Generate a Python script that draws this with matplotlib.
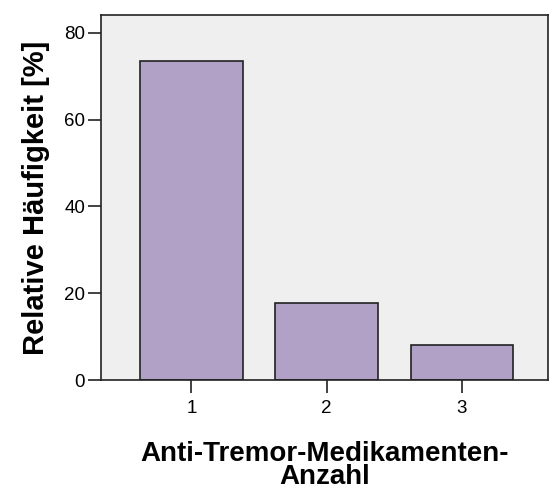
import matplotlib
matplotlib.use("Agg")
import matplotlib.pyplot as plt

categories = ["1", "2", "3"]
values = [73.5, 17.7, 8.0]
yticks = [0, 20, 40, 60, 80]

plt.rcParams['font.family'] = ['Liberation Sans', 'DejaVu Sans']

fig = plt.figure(figsize=(5.5, 4.97), dpi=100)
ax = fig.add_axes([0.1836, 0.2354, 0.8128, 0.7344])
ax.set_facecolor('#EFEFEF')
x = [1, 2, 3]
ax.bar(x, values, width=0.756, color='#B1A1C7', edgecolor='#222222', linewidth=1.2)
ax.set_xlim(0.33, 3.64)
ax.set_ylim(0, 84.1)
ax.set_xticks(x)
ax.set_xticklabels(categories)
ax.set_yticks(yticks)
ax.tick_params(axis='both', direction='out', length=9.5, width=1.2, labelsize=13.5, color='#222222')
ax.tick_params(axis='x', pad=5)
ax.tick_params(axis='y', pad=2)
for s in ax.spines.values():
    s.set_color('#222222')
    s.set_linewidth(1.2)
ax.set_ylabel('Relative Häufigkeit [%]', fontsize=21, fontweight='bold', labelpad=10)
ax.set_xlabel('Anti-Tremor-Medikamenten-\nAnzahl', fontsize=20, fontweight='bold', labelpad=17, linespacing=0.88)
fig.savefig('out.png', dpi=100)
